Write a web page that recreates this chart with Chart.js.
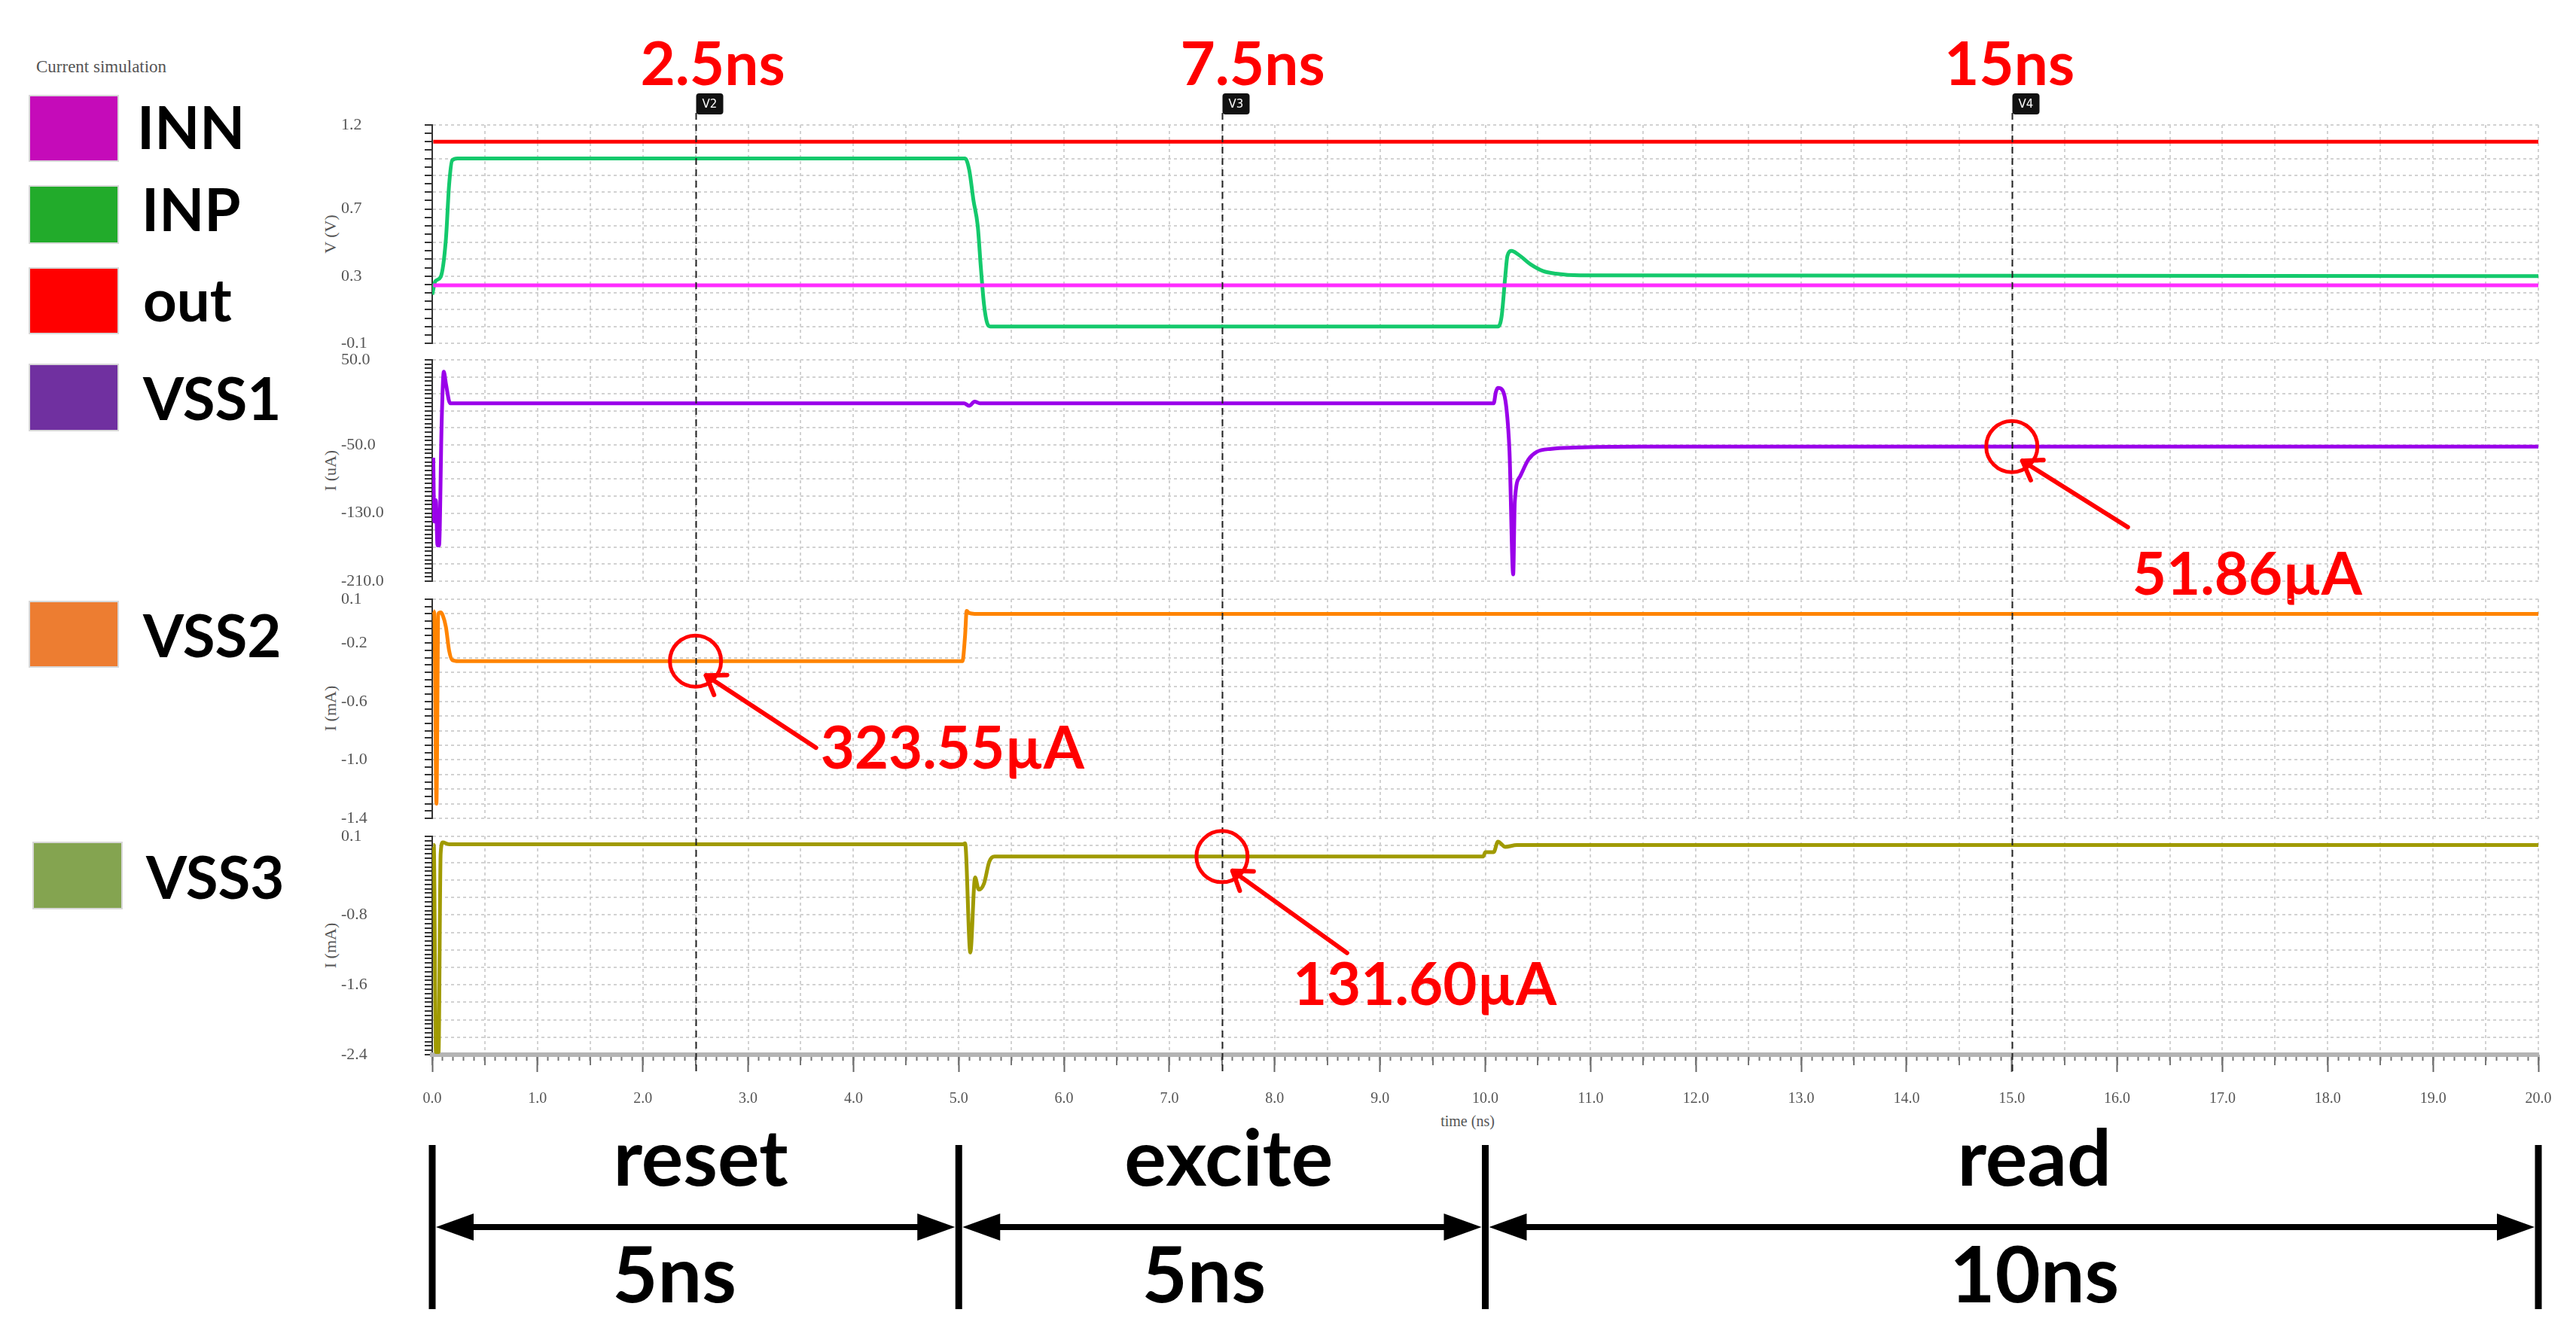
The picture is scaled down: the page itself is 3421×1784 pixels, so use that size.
<!DOCTYPE html>
<html>
<head>
<meta charset="utf-8">
<script src="https://cdn.jsdelivr.net/npm/chart.js@4.4.0/dist/chart.umd.min.js"></script>
<style>
  html, body { margin:0; padding:0; background:#fff; }
  body { width:3421px; height:1784px; position:relative; overflow:hidden; }
  svg.over { position:absolute; left:0; top:0; }
  .lg { font-family: Lato, sans-serif; font-weight:700; font-size:78px; fill:#000; }
  .ax { font-family: 'Liberation Serif', serif; font-size:22px; fill:#555; }
</style>
</head>
<body>
<svg class="over" width="3421" height="1784">
  <text class="ax" x="48" y="96" style="font-size:23px">Current simulation</text>
  <rect x="39" y="127" width="118" height="87" fill="#c50bb9" stroke="#d8d8d8" stroke-width="2"/>
  <text class="lg" x="182" y="198">INN</text>
  <rect x="39" y="247" width="118" height="76" fill="#22ab2b" stroke="#d8d8d8" stroke-width="2"/>
  <text class="lg" x="188" y="307">INP</text>
  <rect x="39" y="356" width="118" height="87" fill="#ff0000" stroke="#d8d8d8" stroke-width="2"/>
  <text class="lg" x="190" y="427">out</text>
  <rect x="39" y="484" width="118" height="88" fill="#7030a0" stroke="#d8d8d8" stroke-width="2"/>
  <text class="lg" x="190" y="558">VSS1</text>
  <rect x="39" y="799" width="118" height="87" fill="#ed7d31" stroke="#d8d8d8" stroke-width="2"/>
  <text class="lg" x="190" y="873">VSS2</text>
  <rect x="44" y="1119" width="118" height="88" fill="#84a450" stroke="#d8d8d8" stroke-width="2"/>
  <text class="lg" x="194" y="1194">VSS3</text>

  <text class="ax" text-anchor="middle" dominant-baseline="middle" transform="translate(441,311) rotate(-90)">V (V)</text>
  <text class="ax" text-anchor="middle" dominant-baseline="middle" transform="translate(441,625) rotate(-90)">I (uA)</text>
  <text class="ax" text-anchor="middle" dominant-baseline="middle" transform="translate(441,941) rotate(-90)">I (mA)</text>
  <text class="ax" text-anchor="middle" dominant-baseline="middle" transform="translate(441,1256) rotate(-90)">I (mA)</text>
  <text class="ax" x="1949" y="1496" text-anchor="middle" style="font-size:20px">time (ns)</text>
</svg>
<script>
// time axis (ns)
const xTicks = [0,1,2,3,4,5,6,7,8,9,10,11,12,13,14,15,16,17,18,19,20];
const cursorTimes = [2.5, 7.5, 15];
const cursorTags = ['V2', 'V3', 'V4'];
const cursorLabels = ['2.5ns', '7.5ns', '15ns'];

// panel 1 - voltages (V)
const outT = [0.01, 20];
const outV = [1.1, 1.1];
const innT = [0.01, 20];
const innV = [0.245, 0.245];
const inpT = [0, 0.03, 0.08, 0.13, 0.16, 0.19, 0.24, 5.06, 5.1, 5.14, 5.18, 5.21, 5.24, 5.27, 5.3,
              10.12, 10.155, 10.19, 10.21, 10.25, 10.31, 10.43, 10.55, 10.67, 10.9, 20];
const inpV = [0.19, 0.27, 0.295, 0.52, 0.84, 0.99, 1.0, 1.0, 0.93, 0.75, 0.6, 0.35, 0.13, 0.02, 0.0,
              0.0, 0.06, 0.3, 0.42, 0.45, 0.43, 0.37, 0.33, 0.315, 0.305, 0.3];

// panel 2 - VSS1 (uA)
const vss1T = [0.01, 0.02, 0.035, 0.05, 0.065, 0.09, 0.11, 0.13, 0.17, 5.05, 5.1, 5.15, 5.2, 5.3,
               10.08, 10.1, 10.12, 10.16, 10.2, 10.23, 10.265, 10.28, 10.33, 10.41, 10.49, 10.63, 10.85, 11.5, 20];
const vss1V = [-65, -140, -115, -168, -168, -22, 36, 22, -1, -1, -4, 1, -1, -1,
               -1, 12, 17, 15, -6, -58, -202, -117, -87, -67, -58, -54.5, -53, -52, -51.86];

// panel 3 - VSS2 (mA)
const vss2T = [0.01, 0.02, 0.04, 0.058, 0.08, 0.1, 0.13, 0.16, 0.19, 0.25, 5.035, 5.06, 5.075, 5.1, 5.15, 20];
const vss2V = [0.02, 0.0, -1.3, 0.0, 0.01, -0.01, -0.09, -0.25, -0.316, -0.32355, -0.32355, -0.15, 0.02, 0.005, 0.0, 0.0];

// panel 4 - VSS3 (mA)
const vss3T = [0.01, 0.015, 0.035, 0.06, 0.08, 0.1, 0.16, 5.04, 5.06, 5.11, 5.155, 5.19, 5.24, 5.29, 5.34,
               9.98, 10.0, 10.08, 10.12, 10.19, 10.3, 20];
const vss3V = [0.0, 0.0, -2.37, -2.37, -0.1, 0.03, 0.01, 0.01, 0.02, -1.23, -0.37, -0.51, -0.44, -0.19, -0.1316,
               -0.1316, -0.08, -0.08, 0.04, -0.02, 0.0, 0.0];

// y tick labels per panel
const yLabels1 = [1.2, 0.7, 0.3, -0.1];
const yLabels2 = [50, -50, -130, -210];
const yLabels3 = [0.1, -0.2, -0.6, -1.0, -1.4];
const yLabels4 = [0.1, -0.8, -1.6, -2.4];

// values called out on the figure
const markTimes = [2.5, 15, 7.5];
const markValues = [-0.32355, -51.86, -0.1316];
const markTexts = ['323.55µA', '51.86µA', '131.60µA'];

// phases under the time axis
const phaseBounds = [0, 5, 10, 20];
const phaseNames = ['reset', 'excite', 'read'];
const phaseLengths = ['5ns', '5ns', '10ns'];

// ---- layout (page pixels) ----
const panels = [
  { top: 0,    padTop: 166, chartH: 290, padBottom: 16,  xAxisH: 0 },
  { top: 462,  padTop: 16,  chartH: 294, padBottom: 50,  xAxisH: 0 },
  { top: 780,  padTop: 16,  chartH: 291, padBottom: 60,  xAxisH: 0 },
  { top: 1095, padTop: 16,  chartH: 290, padBottom: 283, xAxisH: 100 }
];
const cursorSpan = [[150, 467], [467, 784], [784, 1099], [1099, 1425]];
const labelShift = [22, 40, -4];
const markTail = [[160, 115], [154, 107], [166, 128]];
const markText = [[166, 143], [160, 197], [94, 197]];
const nameShift = [7, 9, 30];
const lengthShift = [-28, -24, 30];

const AX_LEFT = 453, PLOT_LEFT = 574, PLOT_RIGHT = 3371;
const LINE_W = 5;
const tickFont = { family: "'Liberation Serif', serif", size: 22 };

const meas = document.createElement('canvas').getContext('2d');
meas.font = "22px 'Liberation Serif', serif";
function widest(labels) {
  return Math.max(...labels.map(v => meas.measureText(v.toFixed(1)).width));
}
function isMult(v, base, step) {
  const r = (v - base) / step;
  return Math.abs(r - Math.round(r)) < 1e-6;
}
function series(T, V, color) {
  return {
    data: T.map((t, i) => ({ x: t, y: V[i] })),
    borderColor: color, borderWidth: LINE_W, pointRadius: 0,
    cubicInterpolationMode: 'monotone', fill: false
  };
}

function yScale(min, max, step, labels, onGrid) {
  const tl = 10;
  return {
    type: 'linear', position: 'left', min, max,
    afterBuildTicks: s => {
      const n = Math.round((max - min) / step), t = [];
      for (let i = 0; i <= n; i++) t.push({ value: +(min + i * step).toFixed(4) });
      s.ticks = t;
    },
    afterFit: s => {
      s.width = PLOT_LEFT - AX_LEFT;
      // keep the label padding from eating into the plot height
      s.paddingTop = 12; s.paddingBottom = 12;
    },
    grid: {
      color: c => (c.tick && onGrid(c.tick.value)) ? '#d2d2d2' : 'rgba(0,0,0,0)',
      lineWidth: 2, tickColor: '#333', tickLength: tl, tickWidth: 2, tickBorderDash: []
    },
    border: { display: true, color: '#333', width: 2, dash: [4, 4] },
    ticks: {
      autoSkip: false, crossAlign: 'far',
      padding: (PLOT_LEFT - AX_LEFT) - tl - widest(labels),
      font: tickFont, color: '#555',
      callback: v => labels.some(l => Math.abs(l - v) < 1e-6) ? v.toFixed(1) : ''
    }
  };
}

function listTicks(step) {
  return s => {
    const t = [];
    for (let i = 0; i <= Math.round(20 / step); i++) t.push({ value: +(i * step).toFixed(3) });
    s.ticks = t;
  };
}
function gridX() {
  return {
    type: 'linear', min: 0, max: 20, position: 'bottom',
    afterBuildTicks: listTicks(0.5),
    afterFit: s => { s.height = 0; },
    grid: { drawOnChartArea: true, drawTicks: false, color: '#d2d2d2', lineWidth: 2 },
    border: { display: false, dash: [4, 4] },
    ticks: { display: false }
  };
}

// dashed cursors + tags + labels
const cursors = {
  id: 'cursors',
  afterDatasetsDraw(chart, args, o) {
    const ctx = chart.ctx, xs = chart.scales.x, top = panels[o.panel].top;
    const span = cursorSpan[o.panel];
    ctx.save();
    cursorTimes.forEach((t, i) => {
      const px = Math.round(xs.getPixelForValue(t)) + 0.5;
      ctx.strokeStyle = '#222'; ctx.lineWidth = 2; ctx.setLineDash([9, 6]);
      ctx.beginPath(); ctx.moveTo(px, span[0] - top); ctx.lineTo(px, span[1] - top); ctx.stroke();
      if (o.panel === 0) {
        ctx.setLineDash([]);
        ctx.fillStyle = '#111';
        ctx.beginPath(); ctx.roundRect(px, 124, 36, 28, 4); ctx.fill();
        ctx.fillStyle = '#fff'; ctx.font = "15px 'DejaVu Sans', sans-serif";
        ctx.textAlign = 'center'; ctx.textBaseline = 'middle';
        ctx.fillText(cursorTags[i], px + 18, 139);
        ctx.fillStyle = '#ff0000'; ctx.font = "700 80px Lato, sans-serif";
        ctx.textBaseline = 'alphabetic';
        ctx.fillText(cursorLabels[i], px + labelShift[i], 113);
      }
    });
    ctx.restore();
  }
};

// red circles, arrows and read-out values
const marks = {
  id: 'marks',
  afterDatasetsDraw(chart, args, o) {
    if (!o.list) return;
    const ctx = chart.ctx, xs = chart.scales.x, ys = chart.scales.y;
    o.list.forEach(i => {
      const cx = xs.getPixelForValue(markTimes[i]);
      const cy = ys.getPixelForValue(markValues[i]);
      ctx.save();
      ctx.strokeStyle = '#ff0000'; ctx.fillStyle = '#ff0000';
      ctx.lineWidth = 5;
      ctx.beginPath(); ctx.arc(cx, cy, 34, 0, Math.PI * 2); ctx.stroke();
      const hx = cx + 14, hy = cy + 19;
      const tx = cx + markTail[i][0], ty = cy + markTail[i][1];
      ctx.lineWidth = 6; ctx.lineCap = 'round'; ctx.lineJoin = 'round';
      ctx.beginPath(); ctx.moveTo(tx, ty); ctx.lineTo(hx, hy); ctx.stroke();
      const a = Math.atan2(hy - ty, hx - tx);
      ctx.beginPath();
      ctx.moveTo(hx - 28 * Math.cos(a - 0.6), hy - 28 * Math.sin(a - 0.6));
      ctx.lineTo(hx, hy);
      ctx.lineTo(hx - 28 * Math.cos(a + 0.6), hy - 28 * Math.sin(a + 0.6));
      ctx.stroke();
      ctx.font = "700 78px Lato, sans-serif"; ctx.textAlign = 'left'; ctx.textBaseline = 'alphabetic';
      ctx.fillText(markTexts[i], cx + markText[i][0], cy + markText[i][1]);
      ctx.restore();
    });
  }
};

// reset / excite / read brackets
const phases = {
  id: 'phases',
  afterDraw(chart, args, o) {
    if (!o.show) return;
    const ctx = chart.ctx, xs = chart.scales.x, top = panels[3].top;
    const px = phaseBounds.map(b => xs.getPixelForValue(b));
    const ay = 1630 - top;
    ctx.save();
    ctx.strokeStyle = '#000'; ctx.fillStyle = '#000';
    ctx.lineWidth = 9;
    px.forEach(x => { ctx.beginPath(); ctx.moveTo(x, 1521 - top); ctx.lineTo(x, 1739 - top); ctx.stroke(); });
    for (let i = 0; i < phaseNames.length; i++) {
      const a = px[i] + 5, b = px[i + 1] - 5;
      ctx.lineWidth = 8;
      ctx.beginPath(); ctx.moveTo(a + 40, ay); ctx.lineTo(b - 40, ay); ctx.stroke();
      ctx.beginPath(); ctx.moveTo(a, ay); ctx.lineTo(a + 50, ay - 18); ctx.lineTo(a + 50, ay + 18); ctx.closePath(); ctx.fill();
      ctx.beginPath(); ctx.moveTo(b, ay); ctx.lineTo(b - 50, ay - 18); ctx.lineTo(b - 50, ay + 18); ctx.closePath(); ctx.fill();
      const mid = (px[i] + px[i + 1]) / 2;
      ctx.font = "700 104px Lato, sans-serif"; ctx.textAlign = 'center'; ctx.textBaseline = 'alphabetic';
      ctx.fillText(phaseNames[i], mid + nameShift[i], 1575 - top);
      ctx.fillText(phaseLengths[i], mid + lengthShift[i], 1730 - top);
    }
    ctx.restore();
  }
};

function makeChart(idx, datasets, yCfg, xScales, markList) {
  const g = panels[idx];
  const h = g.padTop + g.chartH + g.xAxisH + g.padBottom;
  const cv = document.createElement('canvas');
  cv.width = 3421; cv.height = h;
  cv.style.cssText = 'position:absolute;left:0;top:' + g.top + 'px;width:3421px;height:' + h + 'px';
  document.body.appendChild(cv);
  return new Chart(cv.getContext('2d'), {
    type: 'line',
    data: { datasets },
    options: {
      responsive: false, animation: false, devicePixelRatio: 1,
      layout: { padding: { left: AX_LEFT, right: 3421 - PLOT_RIGHT, top: g.padTop, bottom: g.padBottom } },
      scales: Object.assign({ y: yCfg }, xScales),
      plugins: {
        legend: { display: false }, tooltip: { enabled: false },
        cursors: { panel: idx },
        marks: { list: markList },
        phases: { show: idx === 3 }
      }
    },
    plugins: [cursors, marks, phases]
  });
}

makeChart(0, [
  series(outT, outV, '#ff0000'),
  series(innT, innV, '#ff2cff'),
  series(inpT, inpV, '#14c96c')
], yScale(-0.1, 1.2, 0.05, yLabels1, v => isMult(v, 0, 0.1)), { x: gridX() }, []);

makeChart(1, [
  series(vss1T, vss1V, '#9a00ea')
], yScale(-210, 50, 5, yLabels2, v => isMult(v, 50, 20)), { x: gridX() }, [1]);

makeChart(2, [
  series(vss2T, vss2V, '#ff8400')
], yScale(-1.4, 0.1, 0.05, yLabels3, v => isMult(v, 0, 0.1)), { x: gridX() }, [0]);

makeChart(3, [
  series(vss3T, vss3V, '#a09a00')
], yScale(-2.4, 0.1, 0.05, yLabels4, v => Math.abs(v - 0.1) < 1e-6 || isMult(v, 0, 0.2)), {
  x: {
    type: 'linear', min: 0, max: 20, position: 'bottom', weight: 2,
    afterBuildTicks: s => { s.ticks = xTicks.map(v => ({ value: v })); },
    afterFit: s => { s.height = panels[3].xAxisH; },
    grid: { drawOnChartArea: false, tickLength: 23, tickColor: '#666', tickWidth: 2 },
    border: { display: true, color: '#b4b4b4', width: 6 },
    ticks: { autoSkip: false, maxRotation: 0, padding: 24, font: { family: "'Liberation Serif', serif", size: 20 },
             color: '#555', callback: v => v.toFixed(1) }
  },
  xm: {
    type: 'linear', min: 0, max: 20, position: 'bottom', weight: 0,
    afterBuildTicks: listTicks(0.5),
    afterFit: s => { s.height = 0; },
    grid: { drawOnChartArea: true, color: '#d2d2d2', lineWidth: 2, tickLength: 14, tickColor: '#777', tickWidth: 2, tickBorderDash: [] },
    border: { display: false, dash: [4, 4] },
    ticks: { display: false }
  },
  xn: {
    type: 'linear', min: 0, max: 20, position: 'bottom', weight: 1,
    afterBuildTicks: listTicks(0.1),
    afterFit: s => { s.height = 0; },
    grid: { drawOnChartArea: false, tickLength: 8, tickColor: '#777', tickWidth: 2 },
    border: { display: false },
    ticks: { display: false }
  }
}, [2]);
</script>
</body>
</html>
